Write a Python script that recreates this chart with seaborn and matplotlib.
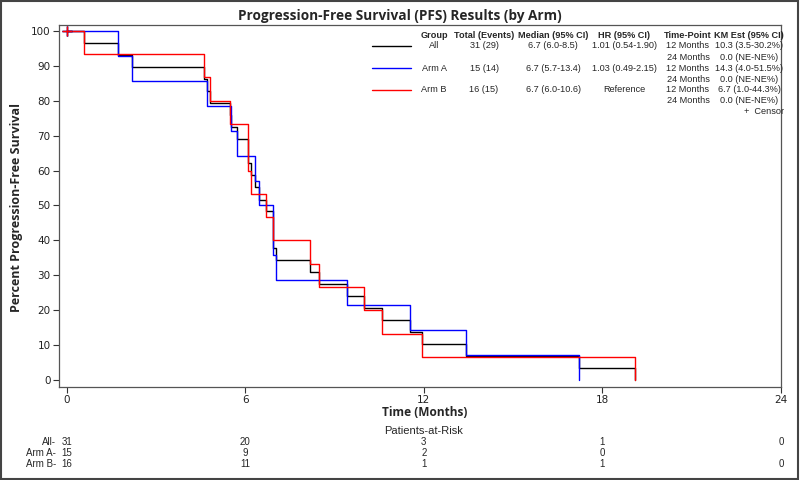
import pandas as pd
import matplotlib.pyplot as plt
import matplotlib.patches as mpatches
import matplotlib.transforms as mtransforms
from matplotlib.lines import Line2D
import seaborn as sns

# Groups and colours
groups = ['All', 'Arm A', 'Arm B']
colors = ['#000000', '#0000FF', '#FF0000']

# Kaplan-Meier steps (time in months, survival in %)
all_time = [0, 0.58, 1.71, 2.18, 4.61, 4.70, 4.82, 5.49, 5.53, 5.72, 6.08, 6.20, 6.34,
            6.47, 6.70, 6.92, 7.04, 8.17, 8.49, 9.43, 9.98, 10.6, 11.52, 11.95, 13.42, 17.2, 19.1]
all_surv = [100, 96.6, 93.1, 89.7, 86.2, 82.8, 79.3, 75.9, 72.4, 69.0, 62.1, 58.6, 55.2,
            51.7, 48.3, 37.9, 34.5, 31.0, 27.6, 24.1, 20.7, 17.2, 13.8, 10.3, 6.9, 3.4, 0]

a_time = [0, 1.71, 2.18, 4.70, 5.53, 5.72, 6.34, 6.47, 6.92, 7.04, 9.43, 11.52, 13.42, 17.2]
a_surv = [100, 92.9, 85.7, 78.6, 71.4, 64.3, 57.1, 50.0, 35.7, 28.6, 21.4, 14.3, 7.1, 0]

b_time = [0, 0.58, 4.61, 4.82, 5.49, 6.08, 6.20, 6.70, 6.92, 8.17, 8.49, 9.98, 10.6, 11.95, 19.1]
b_surv = [100, 93.3, 86.7, 80.0, 73.3, 60.0, 53.3, 46.7, 40.0, 33.3, 26.7, 20.0, 13.3, 6.7, 0]

# censored observations (time, survival)
cens_time = [0, 0, 0]
cens_surv = [100, 100, 100]

# legend table
hdr = ['Group', 'Total (Events)', 'Median (95% CI)', 'HR (95% CI)', 'Time-Point', 'KM Est (95% CI)']
totals = ['31 (29)', '15 (14)', '16 (15)']
medians = ['6.7 (6.0-8.5)', '6.7 (5.7-13.4)', '6.7 (6.0-10.6)']
hrs = ['1.01 (0.54-1.90)', '1.03 (0.49-2.15)', 'Reference']
timepoints = ['12 Months', '24 Months']
km_est = [['10.3 (3.5-30.2%)', '0.0 (NE-NE%)'],
          ['14.3 (4.0-51.5%)', '0.0 (NE-NE%)'],
          ['6.7 (1.0-44.3%)', '0.0 (NE-NE%)']]

# patients at risk
risk_times = [0, 6, 12, 18, 24]
risk_all = [31, 20, 3, 1, 0]
risk_a = [15, 9, 2, 0, None]
risk_b = [16, 11, 1, 1, 0]

frames = []
for g, t, s in zip(groups, [all_time, a_time, b_time], [all_surv, a_surv, b_surv]):
    frames.append(pd.DataFrame({'time': t, 'surv': s, 'group': g}))
df = pd.concat(frames, ignore_index=True)

sns.set_style('white')
plt.rcParams['font.family'] = ['DejaVu Sans']

W, H = 800, 480
fig = plt.figure(figsize=(8, 4.8), dpi=100)


def fx(x):
    return x / W


def fy(y):
    return 1 - y / H


ax = fig.add_axes([fx(59), fy(387), fx(781) - fx(59), (387 - 25) / H])

sns.lineplot(data=df, x='time', y='surv', hue='group', palette=dict(zip(groups, colors)),
             estimator=None, sort=False, drawstyle='steps-post', linewidth=1.0,
             legend=False, ax=ax)
for g, c, ct, cs in zip(groups, colors, cens_time, cens_surv):
    ax.plot([ct], [cs], marker='+', color=c, markersize=7, mew=1.0, ls='none')

ax.set_xlim(-0.26, 24)
ax.set_ylim(-2, 101.7)
ax.set_xticks([0, 6, 12, 18, 24])
ax.set_yticks(range(0, 101, 10))
ax.tick_params(axis='both', direction='out', length=4, width=0.8, color='#333333',
               labelsize=7.5, labelcolor='#222222', bottom=True, left=True, pad=2)
for sp in ax.spines.values():
    sp.set_color('#555555')
    sp.set_linewidth(0.9)
ax.set_xlabel('')
ax.set_ylabel('')

# titles and axis labels
fig.text(0.5, fy(16), 'Progression-Free Survival (PFS) Results (by Arm)', ha='center',
         va='center', fontsize=9.8, fontweight='bold', family='Open Sans')
fig.text(fx(17), fy(207), 'Percent Progression-Free Survival', rotation=90, ha='center',
         va='center', fontsize=9, fontweight='bold', family='Open Sans')
fig.text(fx(425), fy(413), 'Time (Months)', ha='center', va='center', fontsize=8.6,
         fontweight='bold', family='Open Sans')
fig.text(fx(424), fy(431), 'Patients-at-Risk', ha='center', va='center', fontsize=8,
         family='Liberation Sans')

# legend table
col_x = [434, 484, 553, 624, 688, 749]
for cx, h in zip(col_x, hdr):
    fig.text(fx(cx), fy(36), h, ha='center', va='center', fontsize=6.6, fontweight='bold',
             family='Liberation Sans')
row_y = [45.7, 57, 68.3, 79, 90, 100.5]
for i, g in enumerate(groups):
    y0 = row_y[2 * i]
    fig.add_artist(Line2D([fx(372), fx(411)], [fy(y0), fy(y0)], color=colors[i], lw=1.0))
    for cx, txt in zip(col_x[:4], [g, totals[i], medians[i], hrs[i]]):
        fig.text(fx(cx), fy(y0), txt, ha='center', va='center', fontsize=6.6,
                 family='Liberation Sans')
    for j in range(2):
        fig.text(fx(col_x[4]), fy(row_y[2 * i + j]), timepoints[j], ha='center', va='center',
                 fontsize=6.6, family='Liberation Sans')
        fig.text(fx(col_x[5]), fy(row_y[2 * i + j]), km_est[i][j], ha='center', va='center',
                 fontsize=6.6, family='Liberation Sans')
fig.text(fx(784), fy(112), '+  Censor', ha='right', va='center', fontsize=6.6,
         family='Liberation Sans')

# at-risk table
trans = mtransforms.blended_transform_factory(ax.transData, fig.transFigure)
for lab, vals, y in zip(['All-', 'Arm A-', 'Arm B-'], [risk_all, risk_a, risk_b], [442, 453, 464]):
    fig.text(fx(56), fy(y), lab, ha='right', va='center', fontsize=7,
             family='Liberation Sans')
    for t, v in zip(risk_times, vals):
        if v is not None:
            ax.text(t, fy(y), str(v), transform=trans, ha='center', va='center', fontsize=7,
                    family='Liberation Sans', clip_on=False)

# outer border
fig.add_artist(mpatches.Rectangle((0.001, 0.002), 0.997, 0.996, transform=fig.transFigure,
                                  fill=False, edgecolor='#444444', lw=1.5))

fig.savefig('out.png', dpi=100)
